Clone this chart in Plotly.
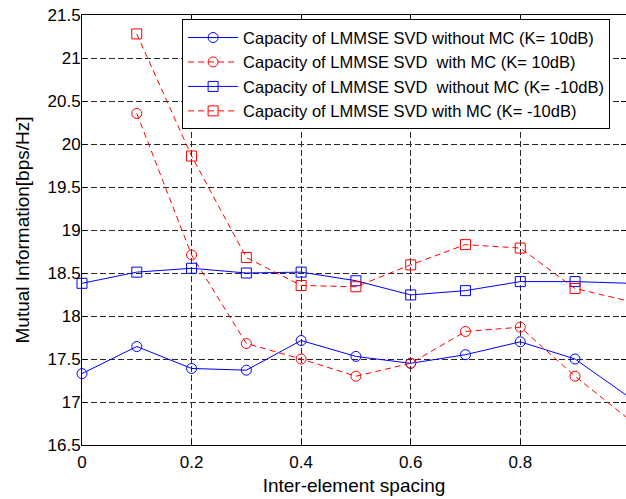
import plotly.graph_objects as go

# ---- data ----
x_all = [0, 0.1, 0.2, 0.3, 0.4, 0.5, 0.6, 0.7, 0.8, 0.9, 1.0]
x_mc = [0.1, 0.2, 0.3, 0.4, 0.5, 0.6, 0.7, 0.8, 0.9, 1.0]

no_mc_10dB = [17.33, 17.645, 17.39, 17.37, 17.715, 17.53, 17.45, 17.55, 17.70, 17.50, 17.05]
mc_10dB = [20.355, 18.71, 17.68, 17.50, 17.30, 17.45, 17.82, 17.87, 17.30, 16.79]
no_mc_m10dB = [18.38, 18.51, 18.555, 18.50, 18.51, 18.41, 18.245, 18.295, 18.40, 18.40, 18.38]
mc_m10dB = [21.28, 19.86, 18.68, 18.355, 18.34, 18.595, 18.83, 18.79, 18.32, 18.17]

names = [
    "Capacity of LMMSE SVD without MC (K= 10dB)",
    "Capacity of LMMSE SVD\u00a0 with MC (K= 10dB)",
    "Capacity of LMMSE SVD\u00a0 without MC (K= -10dB)",
    "Capacity of LMMSE SVD with MC (K= -10dB)",
]

x_tickvals = [0, 0.2, 0.4, 0.6, 0.8, 1.0]
x_ticktext = ["0", "0.2", "0.4", "0.6", "0.8", "1"]
y_tickvals = [16.5, 17, 17.5, 18, 18.5, 19, 19.5, 20, 20.5, 21, 21.5]
y_ticktext = ["16.5", "17", "17.5", "18", "18.5", "19", "19.5", "20", "20.5", "21", "21.5"]

BLUE = "rgb(0,0,255)"
RED = "rgb(255,0,0)"
FONT = "Liberation Sans, Arial, Helvetica, sans-serif"

fig = go.Figure()

series = [
    (x_all, no_mc_10dB, names[0], BLUE, "solid", "circle-open"),
    (x_mc, mc_10dB, names[1], RED, "6px,4px", "circle-open"),
    (x_all, no_mc_m10dB, names[2], BLUE, "solid", "square-open"),
    (x_mc, mc_m10dB, names[3], RED, "6px,4px", "square-open"),
]
for xs, ys, nm, col, dash, sym in series:
    fig.add_trace(go.Scatter(
        x=xs, y=ys, name=nm, mode="lines+markers",
        line=dict(color=col, width=1, dash=dash),
        marker=dict(symbol=sym, size=10, color=col, line=dict(color=col, width=1)),
        cliponaxis=False,
    ))

axis_common = dict(
    showline=True, linecolor="black", linewidth=1, mirror="ticks",
    ticks="inside", ticklen=5, tickcolor="black",
    showgrid=True, gridcolor="rgb(40,40,40)", gridwidth=1, griddash="6px,3px",
    zeroline=False, automargin=False, ticklabeloverflow="allow",
    tickfont=dict(family=FONT, size=17, color="black"),
)

fig.update_xaxes(
    range=[0, 0.993], tickvals=x_tickvals, ticktext=x_ticktext,
    ticklabelstandoff=2,
    title=dict(text="Inter-element spacing", font=dict(family=FONT, size=19, color="black"), standoff=7),
    **axis_common,
)
fig.update_yaxes(
    range=[16.5, 21.5], tickvals=y_tickvals, ticktext=y_ticktext,
    ticklabelstandoff=-3,
    title=dict(text="Mutual Information[bps/Hz]", font=dict(family=FONT, size=19, color="black"), standoff=12),
    **axis_common,
)

fig.update_layout(
    width=626, height=499,
    margin=dict(l=82, r=0, t=15, b=54, autoexpand=False),
    paper_bgcolor="white", plot_bgcolor="white",
    font=dict(family=FONT, color="black"),
    showlegend=True,
    legend=dict(
        x=0.184, y=0.99, xanchor="left", yanchor="top",
        bgcolor="white", bordercolor="black", borderwidth=1,
        font=dict(family=FONT, size=16.5, color="black"),
        itemwidth=50, tracegroupgap=0,
    ),
)

# remove the browser's default 8px body margin so the figure sits at the page origin
fig.write_html(
    "out.html",
    config={"displayModeBar": False},
    post_script="document.body.style.margin='0';",
)
